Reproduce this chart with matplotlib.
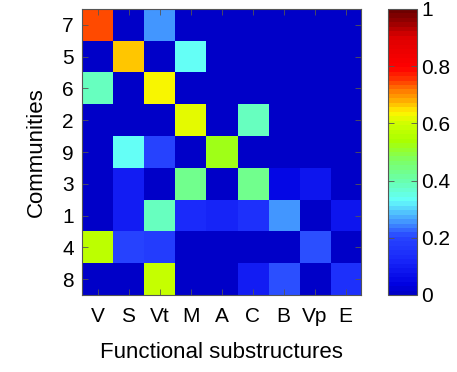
import numpy as np
import matplotlib.pyplot as plt
from matplotlib.colors import LinearSegmentedColormap

plt.rcParams['font.family'] = ['Liberation Sans', 'DejaVu Sans']

communities = ['7', '5', '6', '2', '9', '3', '1', '4', '8']
substructures = ['V', 'S', 'Vt', 'M', 'A', 'C', 'B', 'Vp', 'E']

# one row per community, columns follow substructures
row_7 = [0.74, 0.0, 0.26, 0.0, 0.0, 0.0, 0.0, 0.0, 0.0]
row_5 = [0.0, 0.67, 0.0, 0.34, 0.0, 0.0, 0.0, 0.0, 0.0]
row_6 = [0.38, 0.0, 0.63, 0.0, 0.0, 0.0, 0.0, 0.0, 0.0]
row_2 = [0.0, 0.0, 0.0, 0.61, 0.0, 0.38, 0.0, 0.0, 0.0]
row_9 = [0.0, 0.34, 0.20, 0.0, 0.52, 0.0, 0.0, 0.0, 0.0]
row_3 = [0.0, 0.10, 0.0, 0.43, 0.0, 0.43, 0.05, 0.09, 0.0]
row_1 = [0.0, 0.10, 0.39, 0.13, 0.11, 0.15, 0.25, 0.0, 0.08]
row_4 = [0.57, 0.20, 0.18, 0.0, 0.0, 0.0, 0.0, 0.21, 0.0]
row_8 = [0.0, 0.0, 0.59, 0.0, 0.0, 0.10, 0.21, 0.0, 0.15]

M = np.array([row_7, row_5, row_6, row_2, row_9, row_3, row_1, row_4, row_8])

# jet-like map sampled from the original colorbar
stops = [
    (0.00, (0, 0, 200)),
    (0.03, (0, 0, 225)),
    (0.12, (25, 40, 250)),
    (0.20, (40, 70, 255)),
    (0.26, (70, 160, 255)),
    (0.33, (100, 255, 250)),
    (0.40, (105, 255, 170)),
    (0.47, (125, 255, 100)),
    (0.54, (170, 255, 0)),
    (0.60, (205, 255, 0)),
    (0.64, (255, 245, 0)),
    (0.68, (255, 175, 0)),
    (0.72, (255, 120, 0)),
    (0.76, (255, 50, 0)),
    (0.80, (255, 0, 0)),
    (0.91, (220, 0, 0)),
    (0.96, (150, 0, 0)),
    (1.00, (110, 0, 0)),
]
cmap = LinearSegmentedColormap.from_list(
    'jetlike', [(p, tuple(c / 255 for c in rgb)) for p, rgb in stops], N=64)

fig = plt.figure(figsize=(4.57, 3.72), dpi=100)
ax = fig.add_axes([82 / 457, 1 - 295 / 372, 279 / 457, 286 / 372])
cax = fig.add_axes([388 / 457, 1 - 295 / 372, 29 / 457, 286 / 372])

im = ax.imshow(M, cmap=cmap, vmin=0, vmax=1, aspect='auto', interpolation='nearest')
ax.set_xticks(range(len(substructures)))
ax.set_xticklabels(substructures, fontsize=15)
ax.set_yticks(range(len(communities)))
ax.set_yticklabels(communities, fontsize=15)
ax.tick_params(direction='in', top=True, right=True, length=4, width=0.6, pad=6,
               color='#555555')
ax.tick_params(axis='x', pad=9)
ax.set_xlabel('Functional substructures', fontsize=16, labelpad=11)
ax.set_ylabel('Communities', fontsize=16, labelpad=11)
for s in ax.spines.values():
    s.set_linewidth(0.8)
    s.set_color('#555555')

cb = fig.colorbar(im, cax=cax, ticks=[0, 0.2, 0.4, 0.6, 0.8, 1])
cb.ax.set_yticklabels(['0', '0.2', '0.4', '0.6', '0.8', '1'])
cb.ax.tick_params(direction='in', left=True, right=True, length=4, width=0.6,
                  labelsize=15, pad=3, color='#555555')
cb.outline.set_linewidth(0.8)
cb.outline.set_edgecolor('#555555')

fig.savefig('out.png', dpi=100)
